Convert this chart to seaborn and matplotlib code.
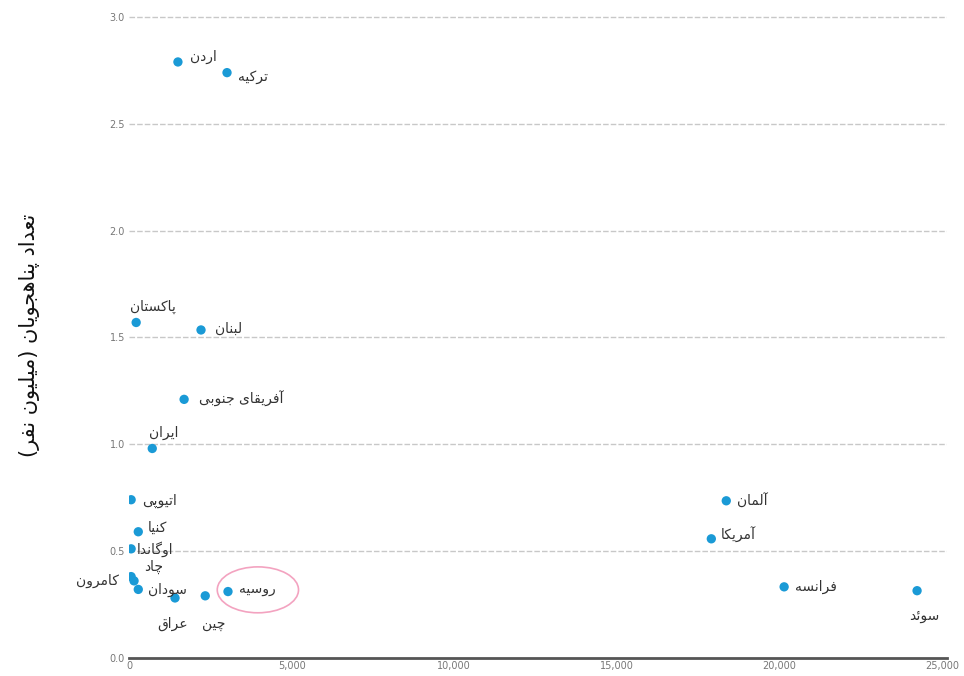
import matplotlib
matplotlib.use("Agg")
import matplotlib.pyplot as plt
from matplotlib.patches import Ellipse
import pandas as pd
import seaborn as sns

# data
countries = ["اردن", "ترکیه", "پاکستان", "لبنان", "آفریقای جنوبی", "ایران",
             "اتیوپی", "کنیا", "اوگاندا", "چاد", "کامرون", "سودان",
             "عراق", "چین", "روسیه", "آلمان", "آمریکا", "فرانسه", "سوئد"]
x_values = [1500, 3010, 215, 2210, 1690, 710,
            60, 280, 60, 60, 150, 280,
            1410, 2340, 3040, 18370, 17910, 20150, 24240]
refugees_m = [2.79, 2.74, 1.57, 1.535, 1.21, 0.98,
              0.74, 0.59, 0.51, 0.38, 0.36, 0.32,
              0.28, 0.29, 0.31, 0.735, 0.557, 0.332, 0.314]
# label offsets in points (dx, dy) and horizontal alignment
label_pos = [(9, 4, "left"), (8, -3, "left"), (12, 11, "center"), (10, 1, "left"),
             (11, 0, "left"), (8, 11, "center"), (8, -1, "left"), (7, 3, "left"),
             (4, 0, "left"), (9, 7, "left"), (-11, 0, "right"), (7, 0, "left"),
             (-2, -19, "center"), (6, -20, "center"), (8, 2, "left"),
             (8, 0, "left"), (7, 3, "left"), (8, 0, "left"), (5, -18, "center")]
y_label = "تعداد پناهجویان (میلیون نفر)"
x_ticks = [0, 5000, 10000, 15000, 20000, 25000]
y_ticks = [0.0, 0.5, 1.0, 1.5, 2.0, 2.5, 3.0]

# minimal arabic/persian shaping: (isolated, final, initial, medial)
FORMS = {
    "ا": (0xFE8D, 0xFE8E, None, None), "آ": (0xFE81, 0xFE82, None, None),
    "د": (0xFEA9, 0xFEAA, None, None), "ذ": (0xFEAB, 0xFEAC, None, None),
    "ر": (0xFEAD, 0xFEAE, None, None), "ز": (0xFEAF, 0xFEB0, None, None),
    "ژ": (0xFB8A, 0xFB8B, None, None), "و": (0xFEED, 0xFEEE, None, None),
    "ب": (0xFE8F, 0xFE90, 0xFE91, 0xFE92), "پ": (0xFB56, 0xFB57, 0xFB58, 0xFB59),
    "ت": (0xFE95, 0xFE96, 0xFE97, 0xFE98), "ج": (0xFE9D, 0xFE9E, 0xFE9F, 0xFEA0),
    "چ": (0xFB7A, 0xFB7B, 0xFB7C, 0xFB7D), "ح": (0xFEA1, 0xFEA2, 0xFEA3, 0xFEA4),
    "س": (0xFEB1, 0xFEB2, 0xFEB3, 0xFEB4), "ع": (0xFEC9, 0xFECA, 0xFECB, 0xFECC),
    "ف": (0xFED1, 0xFED2, 0xFED3, 0xFED4), "ق": (0xFED5, 0xFED6, 0xFED7, 0xFED8),
    "ک": (0xFB8E, 0xFB8F, 0xFB90, 0xFB91), "گ": (0xFB92, 0xFB93, 0xFB94, 0xFB95),
    "ل": (0xFEDD, 0xFEDE, 0xFEDF, 0xFEE0), "م": (0xFEE1, 0xFEE2, 0xFEE3, 0xFEE4),
    "ن": (0xFEE5, 0xFEE6, 0xFEE7, 0xFEE8), "ه": (0xFEE9, 0xFEEA, 0xFEEB, 0xFEEC),
    "ی": (0xFBFC, 0xFBFD, 0xFBFE, 0xFBFF), "ئ": (0xFE89, 0xFE8A, 0xFE8B, 0xFE8C),
}
MIRROR = {"(": ")", ")": "("}


def shape(text):
    out = []
    for i, ch in enumerate(text):
        if ch not in FORMS:
            out.append(MIRROR.get(ch, ch))
            continue
        prev = text[i - 1] if i > 0 else None
        nxt = text[i + 1] if i + 1 < len(text) else None
        joins_prev = prev in FORMS and FORMS[prev][2] is not None
        joins_next = FORMS[ch][2] is not None and nxt in FORMS
        iso, fin, ini, med = FORMS[ch]
        if joins_prev and joins_next:
            code = med
        elif joins_prev:
            code = fin
        elif joins_next:
            code = ini
        else:
            code = iso
        out.append(chr(code))
    return "".join(reversed(out))


df = pd.DataFrame({"country": countries, "x": x_values, "refugees": refugees_m})

sns.set_style("white")
plt.rcParams["font.family"] = ["DejaVu Sans"]

fig = plt.figure(figsize=(9.64, 6.76), dpi=100)
ax = fig.add_axes([0.134, 0.027, 0.848, 0.954])

sns.scatterplot(data=df, x="x", y="refugees", ax=ax, color="#1a9ad6",
                s=45, edgecolor="none", zorder=3)

for (name, xv, yv), (dx, dy, ha) in zip(zip(countries, x_values, refugees_m), label_pos):
    ax.annotate(shape(name), (xv, yv), xytext=(dx, dy), textcoords="offset points",
                ha=ha, va="center", fontsize=10, color="#333333")

# hand-drawn highlight around Russia
ax.add_patch(Ellipse((3960, 0.318), 2500, 0.215, fill=False,
                     edgecolor="#f3a3c0", linewidth=1.2, zorder=2))

ax.set_xlim(0, 25150)
ax.set_ylim(0, 3.02)
ax.set_xticks(x_ticks)
ax.set_xticklabels([f"{t:,}" for t in x_ticks])
ax.set_yticks(y_ticks)
ax.set_yticklabels([f"{t:.1f}" for t in y_ticks])
ax.tick_params(axis="both", labelsize=7, colors="#777777", length=0, pad=3)
ax.tick_params(axis="x", pad=2)

for t in y_ticks[1:]:
    ax.axhline(t, color="#c8c8c8", linewidth=1, linestyle=(0, (4, 1.5)), zorder=1)

for side in ["top", "right", "left"]:
    ax.spines[side].set_visible(False)
ax.spines["bottom"].set_color("#555555")
ax.spines["bottom"].set_linewidth(2)

ax.set_xlabel("")
ax.set_ylabel(shape(y_label), fontsize=15, color="#111111", labelpad=50)

fig.savefig("out.png", dpi=100)
